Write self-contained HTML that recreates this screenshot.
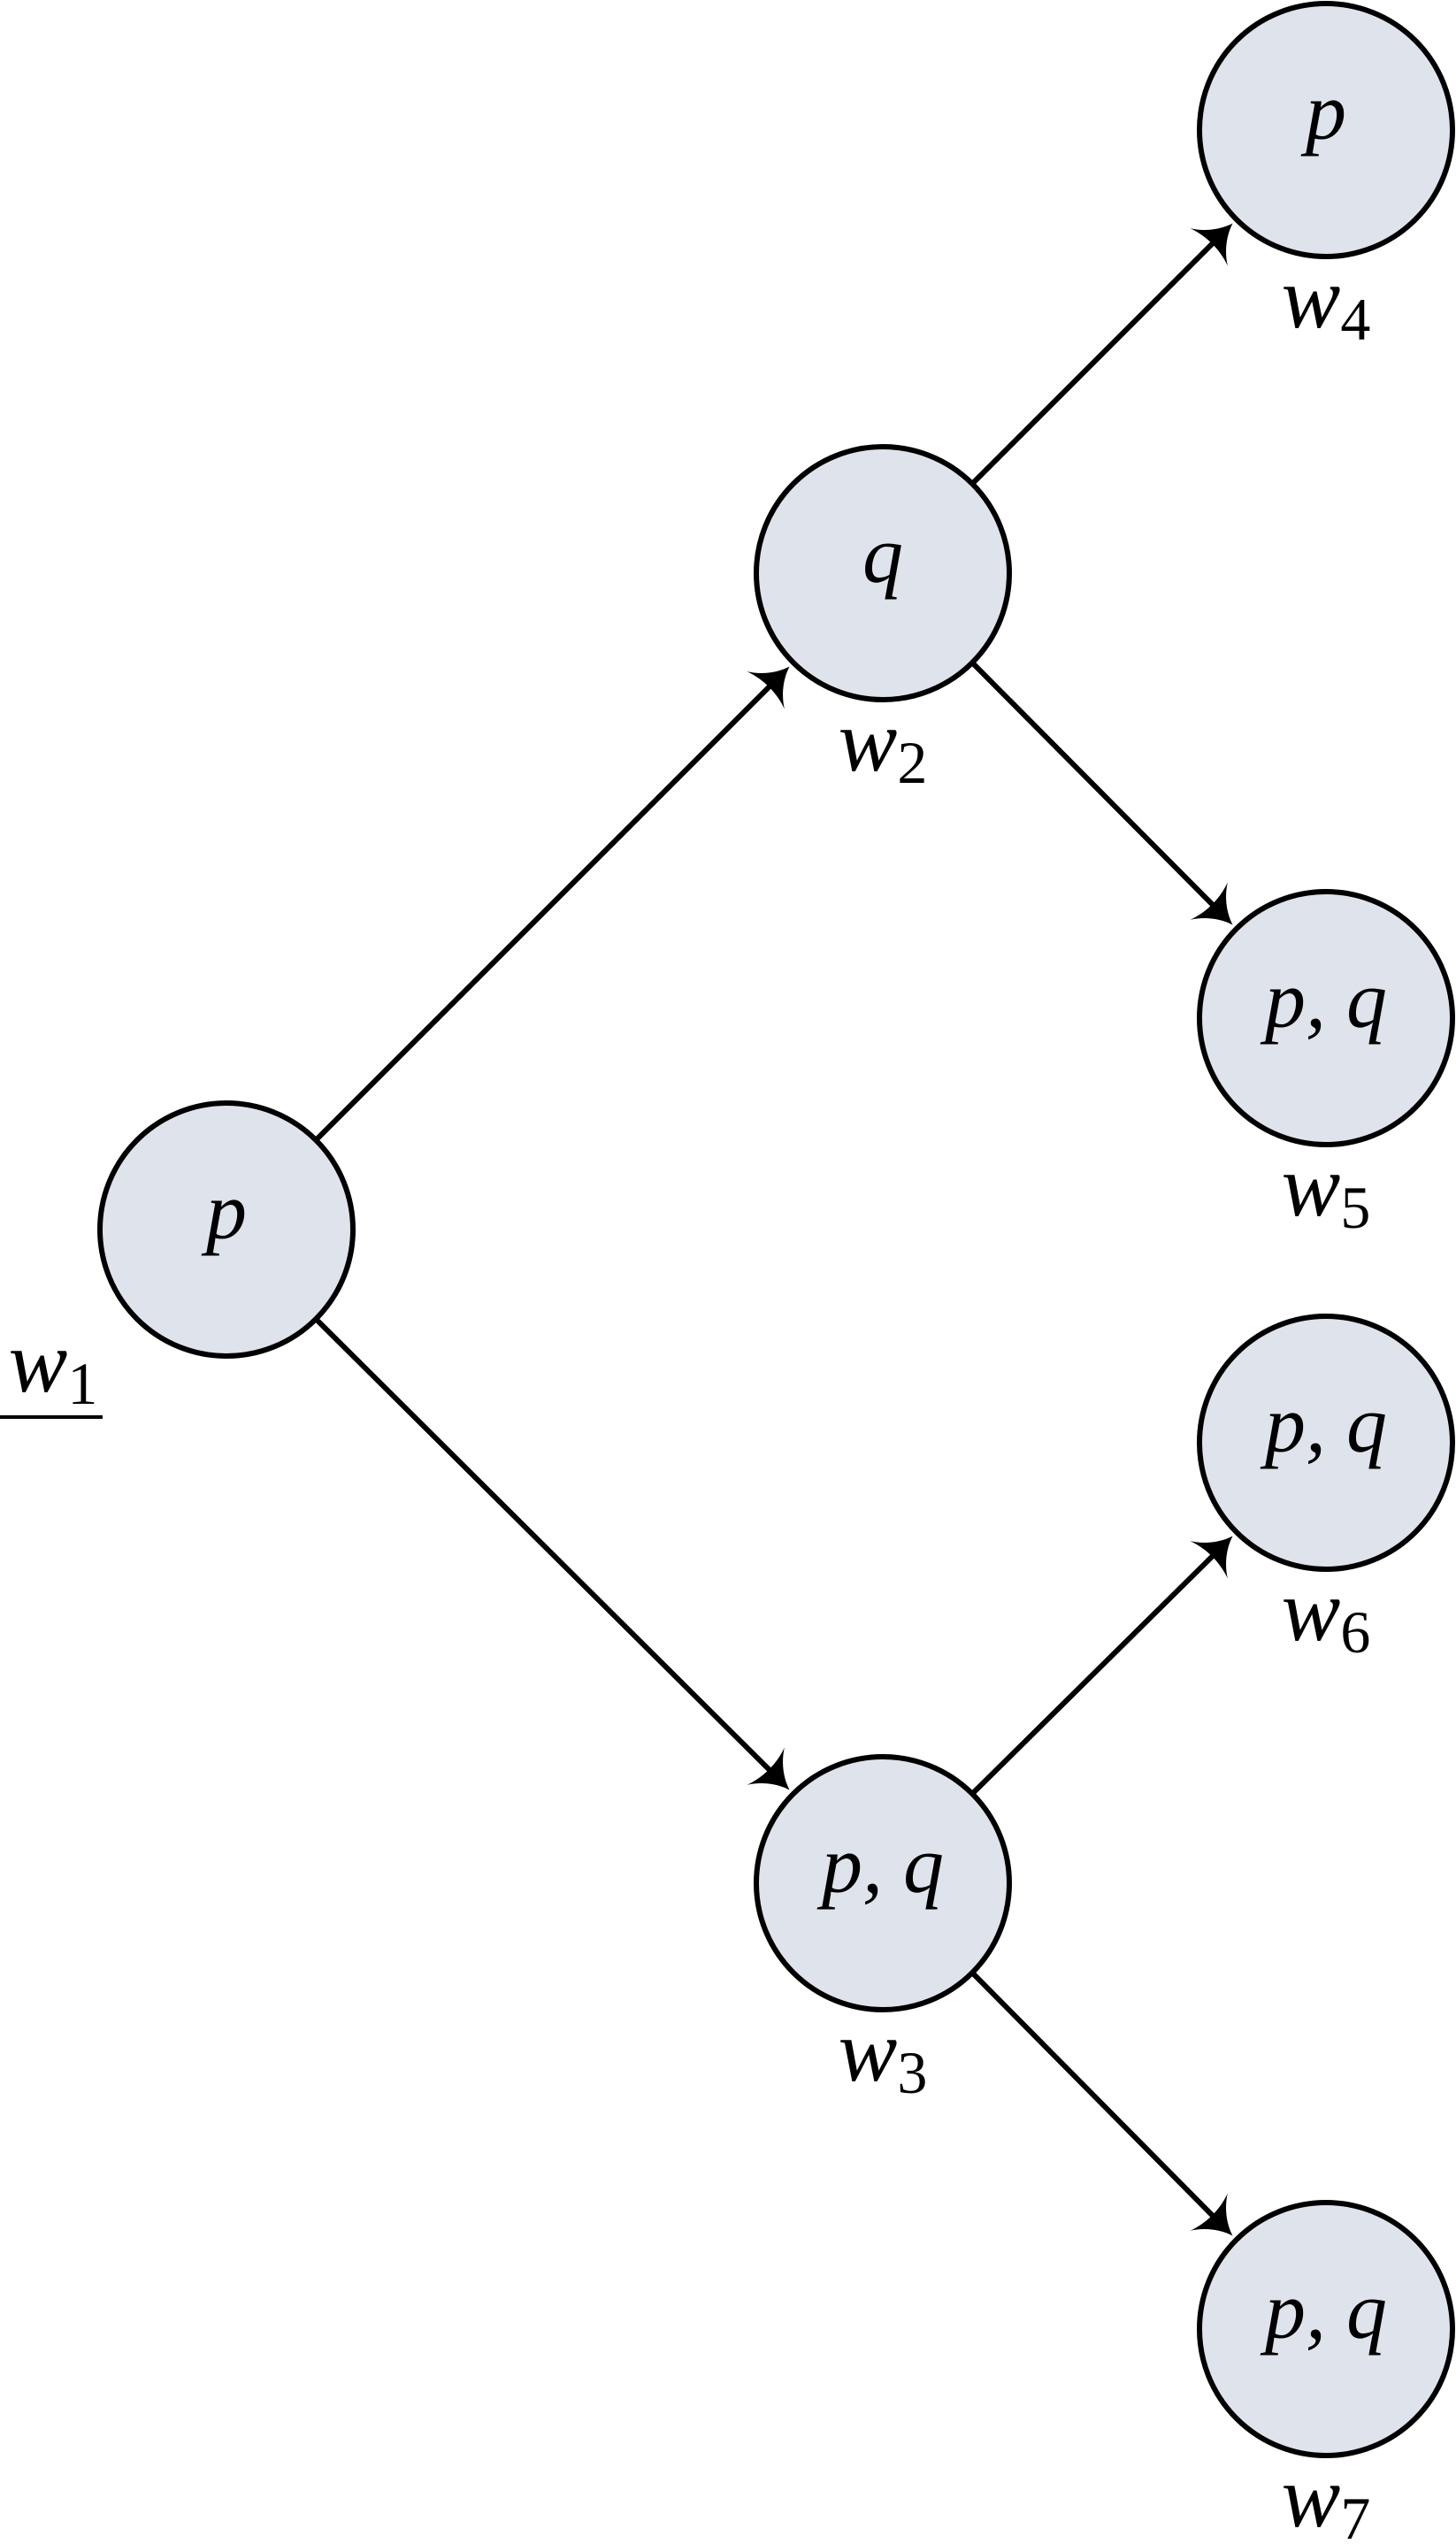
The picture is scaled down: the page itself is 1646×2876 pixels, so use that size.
<!DOCTYPE html>
<html><head><meta charset="utf-8"><style>
html,body{margin:0;padding:0;background:#fff;}
svg{display:block}
text{font-family:"Liberation Serif",serif;font-style:italic;fill:#000}
.s{font-style:normal}
</style></head><body>
<svg width="1646" height="2876" viewBox="0 0 1646 2876" xmlns="http://www.w3.org/2000/svg">
<defs>
<path id="ah" d="M5,0 C-11,-5 -25,-17 -33,-30 C-26,-11 -26,11 -33,30 C-25,17 -11,5 5,0 Z" fill="#000"/>
</defs>
<g stroke="#000" stroke-width="6" fill="none">
<line x1="357" y1="1289" x2="875" y2="771"/>
<line x1="357" y1="1491" x2="875" y2="2006"/>
<line x1="1099" y1="547" x2="1376" y2="270"/>
<line x1="1099" y1="749" x2="1376" y2="1028"/>
<line x1="1099" y1="2028" x2="1376" y2="1754"/>
<line x1="1099" y1="2230" x2="1376" y2="2510"/>
</g>
<use href="#ah" transform="translate(889,757) rotate(-45)"/>
<use href="#ah" transform="translate(889,2020) rotate(45)"/>
<use href="#ah" transform="translate(1390,256) rotate(-45)"/>
<use href="#ah" transform="translate(1390,1042) rotate(45)"/>
<use href="#ah" transform="translate(1390,1740) rotate(-45)"/>
<use href="#ah" transform="translate(1390,2524) rotate(45)"/>
<g fill="#dfe3eb" stroke="#000" stroke-width="6">
<circle cx="256" cy="1390" r="143"/>
<circle cx="998" cy="648" r="143"/>
<circle cx="998" cy="2129" r="143"/>
<circle cx="1499" cy="147" r="143"/>
<circle cx="1499" cy="1151" r="143"/>
<circle cx="1499" cy="1631" r="143"/>
<circle cx="1499" cy="2633" r="143"/>
</g>
<g font-size="92" text-anchor="middle">
<text x="256" y="1400">p</text>
<text x="998" y="658">q</text>
<text x="998" y="2139">p, q</text>
<text x="1499" y="157">p</text>
<text x="1499" y="1161">p, q</text>
<text x="1499" y="1641">p, q</text>
<text x="1499" y="2643">p, q</text>
</g>
<g font-size="100" text-anchor="middle">
<text x="60" y="1573">w<tspan class="s" font-size="68" dy="14">1</tspan></text>
<text x="998" y="871">w<tspan class="s" font-size="68" dy="14">2</tspan></text>
<text x="998" y="2352">w<tspan class="s" font-size="68" dy="14">3</tspan></text>
<text x="1499" y="370">w<tspan class="s" font-size="68" dy="14">4</tspan></text>
<text x="1499" y="1374">w<tspan class="s" font-size="68" dy="14">5</tspan></text>
<text x="1499" y="1854">w<tspan class="s" font-size="68" dy="14">6</tspan></text>
<text x="1499" y="2856">w<tspan class="s" font-size="68" dy="14">7</tspan></text>
</g>
<line x1="0" y1="1602" x2="116" y2="1602" stroke="#000" stroke-width="4"/>
</svg>
</body></html>
